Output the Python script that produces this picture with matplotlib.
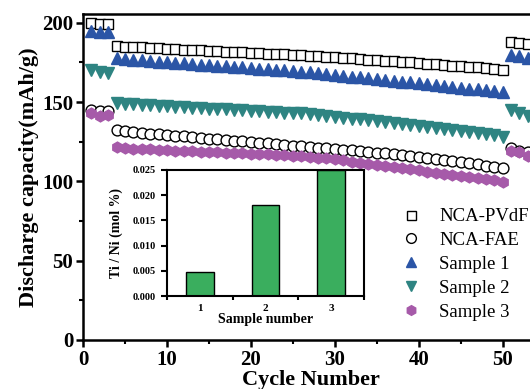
import numpy as np
import matplotlib
matplotlib.use('Agg')
import matplotlib.pyplot as plt

plt.rcParams['font.family'] = ['Liberation Serif', 'DejaVu Serif']

# ciclos 1-53
cycles = list(range(1, 54))

pvdf = [200.0, 199.5, 199.5,
        185.5, 185.0, 184.8, 184.6, 184.2, 184.0, 183.7, 183.5, 183.1, 182.9,
        182.6, 182.4, 182.1, 181.8, 181.6, 181.3, 181.1, 180.8, 180.6, 180.3,
        180.1, 179.8, 179.6, 179.3, 179.0, 178.6, 178.3, 177.9, 177.6, 177.2,
        176.8, 176.5, 176.1, 175.7, 175.3, 175.0, 174.6, 174.2, 173.8, 173.4,
        173.0, 172.6, 172.2, 171.8, 171.3, 170.8, 170.2,
        188.0, 187.5, 186.3]

fae = [145.0, 144.5, 144.3,
       132.4, 131.6, 131.0, 130.6, 130.1, 129.7, 129.2, 128.8, 128.3, 127.9,
       127.4, 127.0, 126.6, 126.1, 125.7, 125.3, 124.8, 124.4, 124.0, 123.5,
       123.1, 122.6, 122.2, 121.7, 121.3, 120.8, 120.4, 119.9, 119.5, 119.0,
       118.6, 118.1, 117.6, 117.1, 116.6, 116.1, 115.5, 114.9, 114.3, 113.6,
       112.9, 112.2, 111.5, 110.7, 109.9, 109.0, 108.2,
       120.8, 119.3, 118.7]

sample1 = [194.5, 194.0, 194.0,
           177.6, 177.0, 176.8, 176.3, 176.0, 175.5, 175.2, 174.8, 174.4, 174.1,
           173.6, 173.3, 172.9, 172.5, 172.1, 171.8, 171.3, 171.0, 170.6, 170.2,
           169.9, 169.5, 169.1, 168.7, 168.2, 167.7, 167.2, 166.6, 166.1, 165.6,
           165.0, 164.5, 164.0, 163.4, 162.9, 162.4, 161.8, 161.3, 160.7, 160.2,
           159.6, 159.1, 158.5, 158.0, 157.4, 156.9, 156.2,
           179.5, 178.8, 177.8]

sample2 = [170.0, 168.8, 168.5,
           149.2, 148.7, 148.5, 148.1, 147.9, 147.6, 147.3, 147.0, 146.8, 146.5,
           146.2, 145.9, 145.7, 145.4, 145.1, 144.8, 144.6, 144.3, 144.0, 143.7,
           143.4, 143.1, 142.8, 142.4, 141.9, 141.4, 140.8, 140.2, 139.6, 139.0,
           138.4, 137.8, 137.2, 136.6, 136.0, 135.4, 134.8, 134.2, 133.5, 132.9,
           132.3, 131.7, 131.0, 130.4, 129.7, 129.0, 128.0,
           145.0, 142.9, 141.4]

sample3 = [142.8, 141.0, 141.7,
           121.4, 120.8, 120.6, 120.3, 120.1, 119.8, 119.5, 119.3, 119.1, 118.9,
           118.7, 118.5, 118.3, 118.1, 117.9, 117.7, 117.5, 117.2, 117.0, 116.7,
           116.4, 116.1, 115.8, 115.5, 115.0, 114.5, 113.9, 113.2, 112.5, 111.8,
           111.1, 110.4, 109.7, 109.0, 108.3, 107.6, 106.9, 106.2, 105.5, 104.8,
           104.1, 103.4, 102.7, 102.0, 101.3, 100.6, 99.9,
           119.3, 118.7, 116.2]

# inset: razao Ti/Ni
amostras = [1, 2, 3]
ti_ni = [0.0047, 0.0181, 0.0249]

fig = plt.figure(figsize=(5.3, 3.89), dpi=100)
ax = fig.add_axes([0.1566, 0.126, 0.86, 0.838])

ax.plot(cycles, pvdf, 's', ms=7.2, mfc='white', mec='black', mew=1.0, label='NCA-PVdF')
ax.plot(cycles, fae, 'o', ms=7.8, mfc='white', mec='black', mew=1.0, label='NCA-FAE')
ax.plot(cycles, sample1, '^', ms=8, color='#2b55a6', label='Sample 1')
ax.plot(cycles, sample2, 'v', ms=8, color='#2e8482', label='Sample 2')
ax.plot(cycles, sample3, 'h', ms=7.8, color='#a65aa9', label='Sample 3')

ax.set_xlim(0, 54.3)
ax.set_ylim(0, 205.5)
ax.set_xticks([0, 10, 20, 30, 40, 50])
ax.set_xticks([5, 15, 25, 35, 45], minor=True)
ax.set_yticks([0, 50, 100, 150, 200])
ax.set_yticks([25, 75, 125, 175], minor=True)
ax.tick_params(which='major', direction='out', length=5, width=1.8, labelsize=15, pad=2)
ax.tick_params(which='minor', direction='out', length=3, width=1.5)
for lab in ax.get_xticklabels() + ax.get_yticklabels():
    lab.set_fontweight('bold')
for s in ax.spines.values():
    s.set_linewidth(1.8)

ax.set_xlabel('Cycle Number', fontsize=16, fontweight='bold', labelpad=0)
ax.set_ylabel('Discharge capacity(mAh/g)', fontsize=16, fontweight='bold', labelpad=2)

leg = ax.legend(loc='upper left', bbox_to_anchor=(0.683, 0.428), frameon=False,
                fontsize=13.5, handlelength=1.0, handletextpad=1.0, labelspacing=0.36,
                borderaxespad=0, markerscale=0.9)

# grafico inserido
ins = fig.add_axes([0.315, 0.239, 0.372, 0.324])
ins.bar(amostras, ti_ni, width=0.42, color='#3aae5e', edgecolor='black', linewidth=1.0)
ins.set_xlim(0.5, 3.5)
ins.set_ylim(0, 0.025)
ins.set_xticks([0.5, 1.5, 2.5, 3.5])
ins.set_xticklabels([])
ins.set_xticks(amostras, minor=True)
ins.set_xticklabels(['1', '2', '3'], minor=True)
ins.tick_params(axis='x', which='minor', length=0, labelsize=8, pad=6)
ins.tick_params(axis='x', which='major', direction='out', length=3, width=1.5)
ins.set_yticks([0, 0.005, 0.010, 0.015, 0.020, 0.025])
ins.set_yticklabels(['0.000', '0.005', '0.010', '0.015', '0.020', '0.025'])
ins.tick_params(axis='y', direction='out', length=4, width=1.5, labelsize=7.5, pad=4)
for lab in ins.get_yticklabels() + ins.get_xticklabels(minor=True):
    lab.set_fontweight('bold')
for s in ins.spines.values():
    s.set_linewidth(1.5)
ins.set_xlabel('Sample number', fontsize=10, fontweight='bold', labelpad=0)
ins.set_ylabel('Ti / Ni (mol %)', fontsize=10, fontweight='bold', labelpad=7)

fig.savefig('out.png', dpi=100)
